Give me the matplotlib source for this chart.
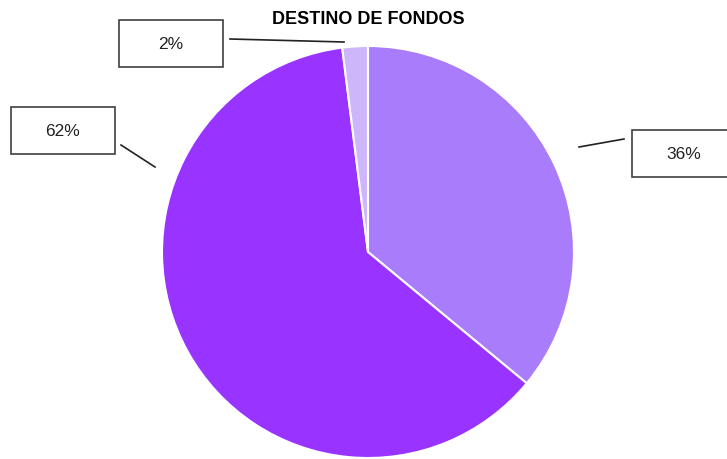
import matplotlib.pyplot as plt
from matplotlib.patches import Rectangle
from matplotlib.lines import Line2D

# datos del grafico
categorias = ["A", "B", "C"]
porcentajes = [36, 62, 2]
etiquetas = ["36%", "62%", "2%"]
colores = ["#A97CFB", "#9933FF", "#CDB6FC"]

W, H = 727, 459
fig = plt.figure(figsize=(W / 100, H / 100), dpi=100)
plt.rcParams['font.family'] = ['Liberation Sans', 'DejaVu Sans']

# pastel: centro (368, 252) px, radio 206 px
cx, cy, r = 368, 252, 206
ax = fig.add_axes([(cx - r) / W, (H - cy - r) / H, 2 * r / W, 2 * r / H])
ax.pie(porcentajes, colors=colores, startangle=90, counterclock=False,
       radius=1, wedgeprops=dict(edgecolor='white', linewidth=1.5))
ax.set_xlim(-1, 1)
ax.set_ylim(-1, 1)
ax.set_aspect('equal')
ax.axis('off')

fig.text(cx / W, 1 - 19 / H, "DESTINO DE FONDOS", ha='center', va='center',
         fontsize=13, fontweight='bold')

# cajas de etiqueta (x0, y0, x1, y1) en pixeles
cajas = {"36%": (632, 130, 740, 177), "62%": (11, 107, 115, 154), "2%": (119, 20, 223, 67)}
lineas = {"36%": ((579, 147), (624, 139)), "62%": ((121, 145), (155, 167)),
          "2%": ((230, 39), (344, 42))}

def px(x, y):
    return x / W, 1 - y / H

for et in etiquetas:
    x0, y0, x1, y1 = cajas[et]
    fx0, fy1 = px(x0, y1)
    rect = Rectangle((fx0, fy1), (x1 - x0) / W, (y1 - y0) / H, transform=fig.transFigure,
                     facecolor='white', edgecolor='#404040', linewidth=1.2)
    fig.patches.append(rect)
    tx, ty = px((x0 + x1) / 2 if x1 < 730 else 684, (y0 + y1) / 2 + 1)
    fig.text(tx, ty, et, ha='center', va='center', fontsize=12.5, color='#222222')
    (a, b), (c, d) = lineas[et]
    p1 = px(a, b)
    p2 = px(c, d)
    fig.lines.append(Line2D([p1[0], p2[0]], [p1[1], p2[1]], transform=fig.transFigure,
                            color='#222222', linewidth=1.2))

plt.savefig("out.png", dpi=100)
